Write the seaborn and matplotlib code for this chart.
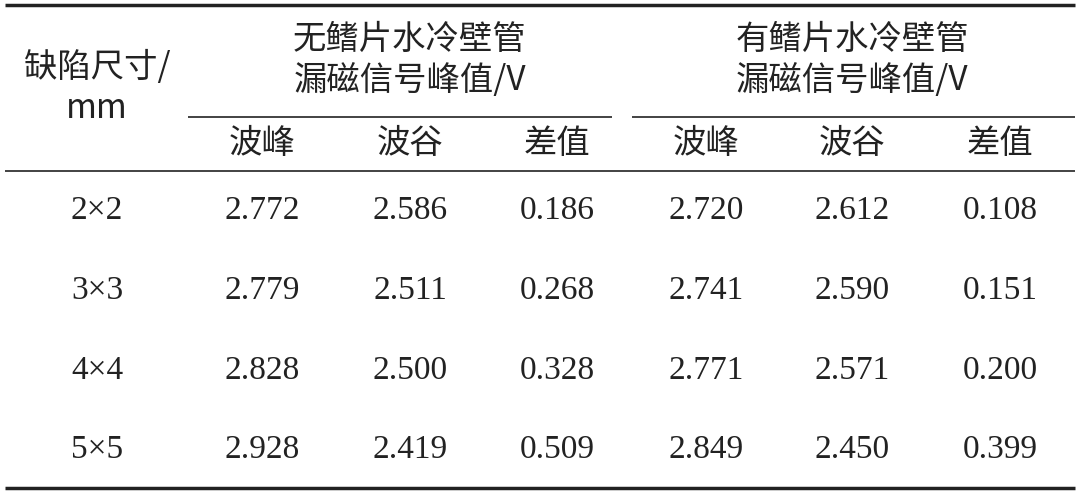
import matplotlib
matplotlib.use("Agg")
import matplotlib.pyplot as plt
import seaborn as sns

sizes = ["2×2", "3×3", "4×4", "5×5"]
no_fin_peak = ["2.772", "2.779", "2.828", "2.928"]
no_fin_valley = ["2.586", "2.511", "2.500", "2.419"]
no_fin_diff = ["0.186", "0.268", "0.328", "0.509"]
fin_peak = ["2.720", "2.741", "2.771", "2.849"]
fin_valley = ["2.612", "2.590", "2.571", "2.450"]
fin_diff = ["0.108", "0.151", "0.200", "0.399"]
group_titles = ["无鳍片水冷壁管\n漏磁信号峰值/V", "有鳍片水冷壁管\n漏磁信号峰值/V"]
sub_headers = ["波峰", "波谷", "差值", "波峰", "波谷", "差值"]
first_header = "缺陷尺寸/\nmm"

sns.set_theme(style="white")
plt.rcParams['font.family'] = ['Noto Sans CJK SC', 'DejaVu Sans']

fig = plt.figure(figsize=(10.8, 4.95), dpi=100)
ax = fig.add_axes([0, 0, 1, 1])
ax.set_xlim(0, 1080)
ax.set_ylim(495, 0)
ax.axis("off")

col_x = [97, 262, 410, 557, 706, 852, 1000]
row_y = [211, 291, 371, 450]
c = "#222222"

ax.hlines(5, 5, 1075, color=c, lw=2.5)
ax.hlines(488, 5, 1075, color=c, lw=2.5)
ax.hlines(171, 5, 1075, color=c, lw=1.2)
ax.hlines(117, 188, 612, color=c, lw=1.2)
ax.hlines(117, 632, 1075, color=c, lw=1.2)

ax.text(col_x[0], 88, first_header, ha="center", va="center", fontsize=24, color=c, linespacing=1.25)
ax.text(410, 60, group_titles[0], ha="center", va="center", fontsize=24, color=c, linespacing=1.2)
ax.text(852, 60, group_titles[1], ha="center", va="center", fontsize=24, color=c, linespacing=1.2)
for x, h in zip(col_x[1:], sub_headers):
    ax.text(x, 143, h, ha="center", va="center", fontsize=24, color=c)

cols = [sizes, no_fin_peak, no_fin_valley, no_fin_diff, fin_peak, fin_valley, fin_diff]
for x, col in zip(col_x, cols):
    for y, v in zip(row_y, col):
        ax.text(x, y, v, ha="center", va="center", fontsize=24, color=c,
                family=['Liberation Serif', 'Noto Sans CJK SC'])

fig.savefig("out.png", dpi=100, facecolor="white")
